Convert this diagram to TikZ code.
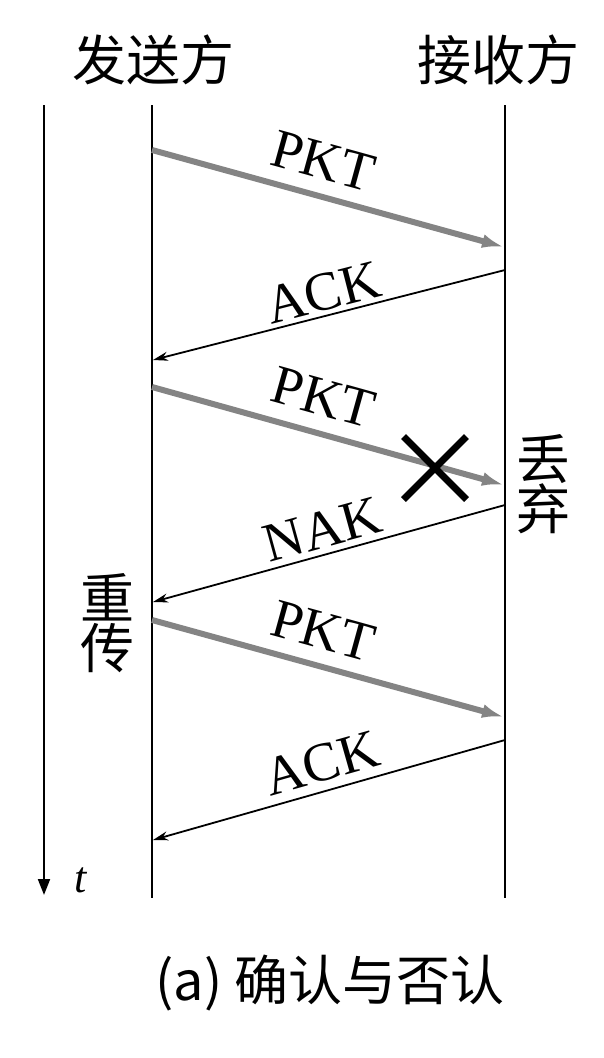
\documentclass[tikz,border=0pt]{standalone}
\usepackage{fontspec}
\setmainfont{Liberation Serif}
\newfontfamily\cjk{Noto Sans CJK SC}
\usetikzlibrary{arrows.meta,shapes.misc}
\definecolor{pktgray}{RGB}{132,132,132}
\begin{document}
\begin{tikzpicture}[x=1pt,y=-1pt,
  cjkt/.style={font=\cjk\fontsize{54}{56}\selectfont, inner sep=0pt, align=center},
  lbl/.style={font=\fontsize{55}{55}\selectfont, inner sep=0pt, sloped},
  life/.style={line width=2pt, black},
  pkt/.style={draw=pktgray, line width=6pt, -{Latex[length=22pt,width=14pt]}},
  ack/.style={draw=black, line width=1.8pt, -{Stealth[length=15pt,width=9pt]}}]
\useasboundingbox (0,0) rectangle (604,1058);
% titles
\node[cjkt] (sender) at (153,60) {发送方};
\node[cjkt] (receiver) at (498,60) {接收方};
% lifelines
\coordinate (sTop) at (152,105);
\coordinate (sBot) at (152,898);
\coordinate (rTop) at (505,105);
\coordinate (rBot) at (505,898);
\coordinate (tTop) at (44,105);
\coordinate (tBot) at (44,895);
\draw[life] (sTop) -- (sBot);
\draw[life] (rTop) -- (rBot);
\draw[life, -{Triangle[length=16pt,width=12pt]}] (tTop) -- (tBot);
\node[font=\itshape\fontsize{44}{44}\selectfont, inner sep=0pt] (tlabel) at (81,880) {t};
% message endpoints
\coordinate (p1s) at (152,150);
\coordinate (p1e) at (504,247);
\coordinate (a1s) at (505,270);
\coordinate (a1e) at (153,360);
\coordinate (p2s) at (152,387);
\coordinate (p2e) at (504,485);
\coordinate (n1s) at (505,505);
\coordinate (n1e) at (153,602);
\coordinate (p3s) at (152,620);
\coordinate (p3e) at (504,717);
\coordinate (a2s) at (505,740);
\coordinate (a2e) at (153,840);
% messages
\draw[pkt] (p1s) -- node[lbl, pos=0.46, above=14pt] {PKT} (p1e);
\draw[ack] (a1s) -- node[lbl, pos=0.5, above=4pt] {ACK} (a1e);
\draw[pkt] (p2s) -- node[lbl, pos=0.46, above=15pt] {PKT} (p2e);
\draw[ack] (n1s) -- node[lbl, pos=0.5, above=6pt] {NAK} (n1e);
\draw[pkt] (p3s) -- node[lbl, pos=0.46, above=14pt] {PKT} (p3e);
\draw[ack] (a2s) -- node[lbl, pos=0.5, above=8pt] {ACK} (a2e);
% loss mark
\node[cross out, draw=black, line width=7pt, minimum size=56pt, inner sep=0pt] (lost) at (435,468) {};
% side notes
\node[cjkt, font=\cjk\fontsize{54}{54}\selectfont] (discard) at (543,484) {丢\\[-4pt]弃};
\node[cjkt, font=\cjk\fontsize{54}{54}\selectfont] (resend) at (107,623) {重\\[-4pt]传};
% caption
\node[cjkt] (caption) at (330,983) {(a) 确认与否认};
\end{tikzpicture}
\end{document}
